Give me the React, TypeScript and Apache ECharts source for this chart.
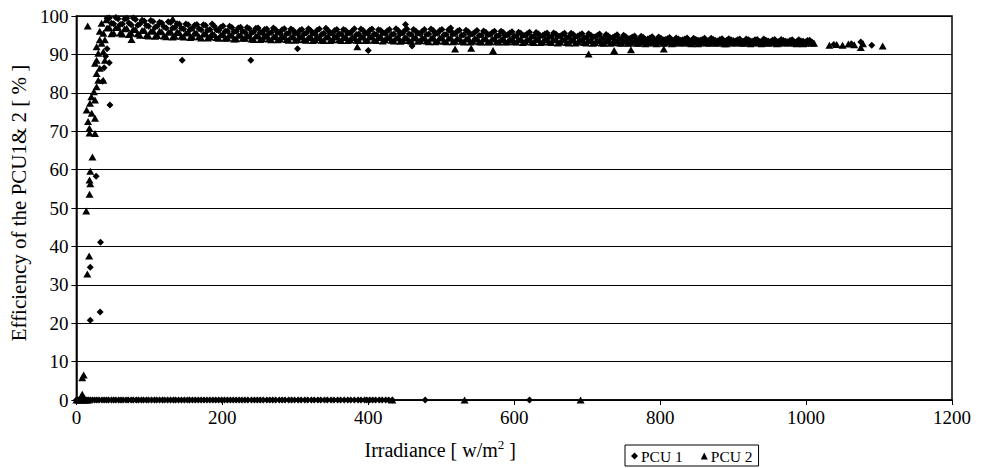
import React, { useEffect, useRef } from "react";
import * as echarts from "echarts";

const FONT = '"Liberation Serif", "Times New Roman", serif';

const xTicks = [0, 200, 400, 600, 800, 1000, 1200];
const yTicks = [0, 10, 20, 30, 40, 50, 60, 70, 80, 90, 100];

// PCU 1 points lying on the 0 % line (irradiance values)
const pcu1ZeroX = [0, 2, 5, 7, 10, 13, 16, 19, 22, 25, 28, 31, 35, 38, 41, 44, 48, 51, 54, 58, 61, 64, 68, 71, 75, 78, 82, 85, 89, 92, 96, 99, 103, 107, 110, 114, 118, 121, 125, 129, 133, 136, 140, 144, 148, 152, 155, 159, 163, 167, 171, 175, 179, 183, 187, 191, 195, 199, 203, 207, 211, 215, 219, 223, 227, 231, 235, 240, 244, 248, 252, 256, 261, 265, 269, 273, 278, 282, 286, 291, 295, 299, 304, 308, 313, 317, 322, 326, 331, 335, 340, 344, 349, 353, 358, 362, 367, 372, 376, 381, 386, 390, 395, 398, 402, 406, 410, 415, 419, 424, 428, 433, 478, 621];
// PCU 2 points lying on the 0 % line
const pcu2ZeroX = [0, 3, 5, 8, 11, 14, 16, 433, 532, 691];

// PCU 1 start-up and outliers [irradiance, efficiency]
const pcu1Rise = [[19, 20.8], [32.5, 22.9], [19, 34.6], [33, 41.1], [27, 58.3], [46, 76.8], [36, 83], [45, 87.8], [38, 86.5], [40, 89.5], [42, 91.5], [145, 88.5], [239, 88.5], [303, 91.5], [400, 91], [451, 97.8], [513, 96.9], [460, 92.2]];

// PCU 1 main band
const pcu1Band = [
  [42, 99.4], [48, 98.1], [54, 99.6], [60, 97.8], [66, 99.2], [72, 98.2], [78, 99.5], [84, 97.6], [90, 98.9], [96, 97.5],
  [102, 98.8], [108, 97.1], [114, 98.4], [120, 97.2], [126, 98.5], [132, 96.9], [138, 98.0], [144, 96.8], [150, 97.9], [156, 96.5],
  [162, 97.6], [168, 96.7], [174, 97.7], [180, 96.3], [186, 97.9], [192, 96.4], [198, 97.1], [204, 96.0], [210, 97.3], [216, 95.9],
  [222, 96.9], [228, 96.0], [234, 97.0], [240, 95.6], [246, 96.8], [252, 95.8], [258, 96.5], [264, 95.5], [270, 96.9], [276, 95.7],
  [282, 96.4], [288, 95.4], [294, 96.6], [300, 95.6], [306, 96.2], [312, 95.3], [318, 96.7], [324, 95.5], [330, 96.3], [336, 95.2],
  [342, 96.8], [348, 95.6], [354, 96.2], [360, 95.3], [366, 96.5], [372, 95.5], [378, 96.1], [384, 95.2], [390, 96.6], [396, 95.4],
  [402, 96.3], [408, 95.3], [414, 96.4], [420, 95.6], [426, 96.1], [432, 95.2], [438, 96.7], [444, 95.4], [450, 96.2], [456, 95.3],
  [462, 96.5], [468, 95.5], [474, 96.0], [480, 95.2], [486, 96.6], [492, 95.4], [498, 96.2], [504, 95.1], [510, 96.4], [516, 95.3],
  [522, 96.0], [528, 95.0], [534, 96.3], [540, 95.2], [546, 95.8], [552, 94.9], [558, 96.1], [564, 95.1], [570, 95.7], [576, 94.8],
  [582, 96.0], [588, 94.9], [594, 95.6], [600, 94.7], [606, 95.8], [612, 94.9], [618, 95.4], [624, 94.6], [630, 95.7], [636, 94.8],
  [642, 95.3], [648, 94.5], [654, 95.6], [660, 94.7], [666, 95.2], [672, 94.4], [678, 95.5], [684, 94.6], [690, 95.1], [696, 94.3],
  [702, 95.4], [708, 94.5], [714, 94.9], [720, 94.2], [726, 95.2], [732, 94.3], [738, 94.7], [744, 94.0], [750, 95.0], [756, 94.1],
  [762, 94.5], [768, 93.8], [774, 94.7], [780, 93.9], [786, 94.3], [792, 93.7], [798, 94.5], [804, 93.8], [810, 94.1], [816, 93.6],
  [822, 94.3], [828, 93.7], [834, 94.0], [840, 93.5], [846, 94.2], [852, 93.7], [858, 93.9], [864, 93.5], [870, 94.2], [876, 93.6],
  [882, 93.9], [888, 93.4], [894, 94.1], [900, 93.6], [906, 93.8], [912, 93.4], [918, 94.0], [924, 93.5], [930, 93.8], [936, 93.3],
  [942, 94.0], [948, 93.5], [954, 93.7], [960, 93.3], [966, 93.9], [972, 93.4], [978, 93.6], [984, 93.2], [990, 93.8], [996, 93.4],
  [1002, 93.6], [1008, 93.2], [1038, 92.6], [1062, 92.8], [1075, 93.2], [1090, 92.4],
];

// PCU 1 band, readings between the ones above
const pcu1BandFill = [
  [45, 99.5], [51, 98.0], [57, 99.3], [63, 97.9], [69, 99.4], [75, 97.7], [81, 99.1], [87, 97.9], [93, 98.7], [99, 97.3],
  [105, 98.6], [111, 97.4], [117, 98.2], [123, 96.9], [129, 98.3], [135, 97.0], [141, 97.9], [147, 96.6], [153, 97.7], [159, 96.8],
  [165, 97.8], [171, 96.4], [177, 97.5], [183, 96.5], [189, 97.3], [195, 96.2], [201, 97.4], [207, 96.1], [213, 97.0], [219, 96.0],
  [225, 97.1], [231, 95.8], [237, 96.7], [243, 95.9], [249, 96.9], [255, 95.6], [261, 96.6], [267, 95.7], [273, 96.4], [279, 95.5],
  [285, 96.7], [291, 95.6], [297, 96.3], [303, 95.4], [309, 96.5], [315, 95.6], [321, 96.2], [327, 95.3], [333, 96.6], [339, 95.5],
  [345, 96.2], [351, 95.4], [357, 96.5], [363, 95.3], [369, 96.2], [375, 95.6], [381, 96.7], [387, 95.3], [393, 96.2], [399, 95.5],
  [405, 96.6], [411, 95.2], [417, 96.2], [423, 95.5], [429, 96.5], [435, 95.3], [441, 96.2], [447, 95.6], [453, 96.6], [459, 95.2],
  [465, 96.1], [471, 95.4], [477, 96.5], [483, 95.3], [489, 96.2], [495, 95.5], [501, 96.5], [507, 95.2], [513, 96.1], [519, 95.4],
  [525, 96.3], [531, 95.1], [537, 95.9], [543, 95.3], [549, 96.2], [555, 95.0], [561, 95.8], [567, 95.2], [573, 96.0], [579, 94.9],
  [585, 95.7], [591, 95.1], [597, 95.9], [603, 94.8], [609, 95.5], [615, 95.0], [621, 95.8], [627, 94.7], [633, 95.4], [639, 94.9],
  [645, 95.6], [651, 94.6], [657, 95.3], [663, 94.8], [669, 95.5], [675, 94.5], [681, 95.2], [687, 94.7], [693, 95.4], [699, 94.4],
  [705, 95.0], [711, 94.6], [717, 95.3], [723, 94.3], [729, 94.8], [735, 94.4], [741, 95.1], [747, 94.1], [753, 94.6], [759, 94.2],
  [765, 94.8], [771, 93.9], [777, 94.4], [783, 94.0], [789, 94.6], [795, 93.8], [801, 94.2], [807, 93.9], [813, 94.4], [819, 93.7],
  [825, 94.0], [831, 93.8], [837, 94.3], [843, 93.6], [849, 93.9], [855, 93.7], [861, 94.2], [867, 93.6], [873, 93.9], [879, 93.5],
  [885, 94.1], [891, 93.6], [897, 93.8], [903, 93.5], [909, 94.0], [915, 93.4], [921, 93.8], [927, 93.4], [933, 93.9], [939, 93.4],
  [945, 93.7], [951, 93.3], [957, 93.9], [963, 93.4], [969, 93.6], [975, 93.3], [981, 93.8], [987, 93.3], [993, 93.5], [999, 93.2],
  [1005, 93.7],
];

// PCU 2 start-up and outliers
const pcu2Rise = [
  [8, 1.5], [8, 5.8], [10, 6.5], [15, 32.8], [17.5, 37.5], [13.5, 49.2], [18, 53.6], [19, 56.3], [18, 57.3], [19, 59.6], [22, 63.3],
  [18, 69.5], [25.5, 69.4], [17.8, 70.8], [16, 72.5], [25.5, 73.4], [21, 74.7], [14, 75.5], [18.6, 77.3], [25.5, 78.1], [20.5, 79],
  [24, 80.3], [27.7, 81.6], [30, 83.3], [36.9, 83.3], [27.7, 85], [32, 86.4], [25.5, 87.7], [27.7, 88.5], [39, 88.5], [30, 90.3],
  [36.9, 90.7], [27.7, 92], [34.5, 92.9], [32, 93.8], [39, 93.8], [37, 95.5], [32, 96], [34.5, 98.1], [41, 99], [15.5, 97.4],
  [75.5, 93.9], [132, 99.2], [385, 92], [519, 91.4], [541, 91.6], [571, 91], [702, 90.1], [737, 91], [760, 91.2], [805, 91.4],
];

// PCU 2 main band
const pcu2Band = [
  [45, 97.0], [51, 95.6], [57, 97.1], [63, 95.3], [69, 96.8], [75, 95.5], [81, 96.5], [87, 95.0], [93, 96.3], [99, 94.8],
  [105, 96.2], [111, 94.9], [117, 95.9], [123, 94.6], [129, 96.0], [135, 94.7], [141, 95.7], [147, 94.5], [153, 95.8], [159, 94.6],
  [165, 95.5], [171, 94.3], [177, 95.6], [183, 94.5], [189, 95.2], [195, 94.2], [201, 95.4], [207, 94.3], [213, 95.0], [219, 94.1],
  [225, 95.1], [231, 94.2], [237, 94.8], [243, 93.9], [249, 95.0], [255, 94.1], [261, 94.7], [267, 93.8], [273, 94.9], [279, 94.0],
  [285, 94.6], [291, 93.7], [297, 94.8], [303, 93.9], [309, 94.5], [315, 93.7], [321, 94.7], [327, 93.8], [333, 94.4], [339, 93.6],
  [345, 94.7], [351, 93.8], [357, 94.5], [363, 93.6], [369, 94.7], [375, 93.8], [381, 94.4], [387, 93.6], [393, 94.6], [399, 93.7],
  [405, 94.5], [411, 93.6], [417, 94.7], [423, 93.8], [429, 94.4], [435, 93.5], [441, 94.6], [447, 93.6], [453, 94.3], [459, 93.4],
  [465, 94.5], [471, 93.6], [477, 94.2], [483, 93.3], [489, 94.5], [495, 93.5], [501, 94.3], [507, 93.3], [513, 94.4], [519, 93.4],
  [525, 94.1], [531, 93.2], [537, 94.3], [543, 93.4], [549, 94.0], [555, 93.2], [561, 94.2], [567, 93.3], [573, 94.0], [579, 93.2],
  [585, 94.2], [591, 93.3], [597, 93.9], [603, 93.2], [609, 94.1], [615, 93.3], [621, 93.9], [627, 93.1], [633, 94.1], [639, 93.2],
  [645, 93.9], [651, 93.1], [657, 94.0], [663, 93.2], [669, 93.8], [675, 93.0], [681, 93.9], [687, 93.2], [693, 93.7], [699, 93.0],
  [705, 93.9], [711, 93.1], [717, 93.6], [723, 92.9], [729, 93.7], [735, 93.1], [741, 93.5], [747, 92.9], [753, 93.6], [759, 93.0],
  [765, 93.4], [771, 92.9], [777, 93.5], [783, 93.0], [789, 93.3], [795, 92.8], [801, 93.4], [807, 93.0], [813, 93.3], [819, 92.9],
  [825, 93.4], [831, 93.0], [837, 93.3], [843, 92.8], [849, 93.4], [855, 93.0], [861, 93.2], [867, 92.9], [873, 93.4], [879, 93.0],
  [885, 93.2], [891, 92.8], [897, 93.3], [903, 93.0], [909, 93.2], [915, 92.9], [921, 93.3], [927, 93.0], [933, 93.2], [939, 92.8],
  [945, 93.3], [951, 93.0], [957, 93.1], [963, 92.9], [969, 93.3], [975, 93.0], [981, 93.1], [987, 92.8], [993, 93.2], [999, 92.9],
  [1005, 93.1], [1011, 92.9],
  [1032, 92.4], [1042, 92.6], [1050, 92.4], [1058, 92.7], [1066, 92.5], [1075, 91.8], [1078, 92.8], [1105, 92.2],
];

// PCU 2 band, readings between the ones above
const pcu2BandFill = [
  [42, 96.9], [48, 95.4], [54, 97.0], [60, 95.6], [66, 96.7], [72, 95.2], [78, 96.6], [84, 95.4], [90, 96.2], [96, 94.9],
  [102, 96.0], [108, 94.7], [114, 96.1], [120, 94.8], [126, 95.8], [132, 94.5], [138, 95.9], [144, 94.7], [150, 95.6], [156, 94.4],
  [162, 95.7], [168, 94.6], [174, 95.3], [180, 94.3], [186, 95.5], [192, 94.4], [198, 95.1], [204, 94.2], [210, 95.2], [216, 94.0],
  [222, 95.0], [228, 94.2], [234, 94.9], [240, 94.0], [246, 94.8], [252, 93.9], [258, 94.9], [264, 94.0], [270, 94.6], [276, 93.8],
  [282, 94.8], [288, 93.9], [294, 94.5], [300, 93.7], [306, 94.7], [312, 93.8], [318, 94.4], [324, 93.6], [330, 94.6], [336, 93.7],
  [342, 94.5], [348, 93.6], [354, 94.7], [360, 93.8], [366, 94.4], [372, 93.6], [378, 94.6], [384, 93.7], [390, 94.5], [396, 93.6],
  [402, 94.7], [408, 93.7], [414, 94.4], [420, 93.5], [426, 94.6], [432, 93.7], [438, 94.3], [444, 93.4], [450, 94.5], [456, 93.6],
  [462, 94.3], [468, 93.4], [474, 94.4], [480, 93.5], [486, 94.2], [492, 93.3], [498, 94.4], [504, 93.4], [510, 94.2], [516, 93.3],
  [522, 94.3], [528, 93.4], [534, 94.0], [540, 93.2], [546, 94.2], [552, 93.3], [558, 94.0], [564, 93.2], [570, 94.1], [576, 93.3],
  [582, 93.9], [588, 93.2], [594, 94.1], [600, 93.3], [606, 93.9], [612, 93.1], [618, 94.0], [624, 93.2], [630, 93.9], [636, 93.1],
  [642, 94.0], [648, 93.2], [654, 93.8], [660, 93.0], [666, 93.9], [672, 93.1], [678, 93.7], [684, 93.0], [690, 93.8], [696, 93.1],
  [702, 93.6], [708, 92.9], [714, 93.7], [720, 93.0], [726, 93.5], [732, 92.9], [738, 93.6], [744, 93.0], [750, 93.4], [756, 92.9],
  [762, 93.5], [768, 92.9], [774, 93.3], [780, 92.8], [786, 93.4], [792, 93.0], [798, 93.3], [804, 92.9], [810, 93.4], [816, 92.8],
  [822, 93.3], [828, 93.0], [834, 93.4], [840, 92.9], [846, 93.2], [852, 92.8], [858, 93.3], [864, 93.0], [870, 93.2], [876, 92.9],
  [882, 93.3], [888, 92.8], [894, 93.2], [900, 93.0], [906, 93.3], [912, 92.9], [918, 93.2], [924, 92.8], [930, 93.3], [936, 93.0],
  [942, 93.1], [948, 92.9], [954, 93.2], [960, 92.8], [966, 93.1], [972, 93.0], [978, 93.2], [984, 92.9], [990, 93.1], [996, 92.8],
  [1002, 93.1], [1008, 92.9],
];

export default function App() {
  const ref = useRef<HTMLDivElement>(null);
  useEffect(() => {
    if (!ref.current) return;
    const chart = echarts.init(ref.current, undefined, { renderer: "svg" });
    const pcu1Data = [...pcu1ZeroX.map((x) => [x, 0]), ...pcu1Rise, ...pcu1Band, ...pcu1BandFill];
    const pcu2Data = [...pcu2ZeroX.map((x) => [x, 0]), ...pcu2Rise, ...pcu2Band, ...pcu2BandFill];
    chart.setOption({
      animation: false,
      backgroundColor: "#fff",
      textStyle: { fontFamily: FONT, color: "#000" },
      grid: {
        left: 73, right: 33, top: 16, bottom: 68,
        show: true, borderColor: "#000", borderWidth: 1.5, backgroundColor: "transparent",
      },
      legend: {
        data: ["PCU 1", "PCU 2"],
        left: 625, top: 445,
        orient: "horizontal",
        itemWidth: 7, itemHeight: 7, itemGap: 18,
        borderColor: "#000", borderWidth: 1, borderRadius: 0,
        padding: [3, 6, 2, 6],
        itemStyle: { opacity: 1 },
        textStyle: { fontFamily: FONT, fontSize: 15.5, color: "#000", padding: [0, 0, 0, -2] },
      },
      xAxis: {
        type: "value",
        min: xTicks[0], max: xTicks[xTicks.length - 1], interval: 200,
        name: "Irradiance [ w/m{sup|2} ]",
        nameLocation: "middle",
        nameGap: 38,
        nameTextStyle: {
          fontFamily: FONT, fontSize: 20, color: "#000", padding: [0, 148, 0, 0],
          rich: { sup: { fontFamily: FONT, fontSize: 13, color: "#000", padding: [0, 0, 10, 0] } },
        },
        axisLine: { show: true, onZero: false, lineStyle: { color: "#000", width: 1.5 } },
        axisTick: { show: true, inside: false, length: 5, lineStyle: { color: "#000", width: 1 } },
        splitLine: { show: false },
        axisLabel: { color: "#000", fontFamily: FONT, fontSize: 19, margin: 8, formatter: (v: number) => String(v) },
      },
      yAxis: {
        type: "value",
        min: yTicks[0], max: yTicks[yTicks.length - 1], interval: 10,
        name: "Efficiency of the PCU1& 2 [ % ]",
        nameLocation: "middle",
        nameRotate: 90,
        nameGap: 46,
        nameTextStyle: { fontFamily: FONT, fontSize: 21, color: "#000", padding: [0, 0, 0, 10] },
        axisLine: { show: true, lineStyle: { color: "#000", width: 1.5 } },
        axisTick: { show: true, inside: false, length: 5, lineStyle: { color: "#000", width: 1 } },
        splitLine: { show: true, lineStyle: { color: "#000", width: 1 } },
        axisLabel: { color: "#000", fontFamily: FONT, fontSize: 19, margin: 8, formatter: (v: number) => String(v) },
      },
      series: [
        {
          name: "PCU 1", type: "scatter", symbol: "diamond", symbolSize: [7, 7],
          itemStyle: { color: "#000", opacity: 1 }, data: pcu1Data, clip: false,
        },
        {
          name: "PCU 2", type: "scatter", symbol: "triangle", symbolSize: [8, 7],
          itemStyle: { color: "#000", opacity: 1 }, data: pcu2Data, clip: false,
        },
      ],
    });
    return () => chart.dispose();
  }, []);
  return <div ref={ref} style={{ width: 985, height: 468, position: "fixed", left: 0, top: 0 }} />;
}
